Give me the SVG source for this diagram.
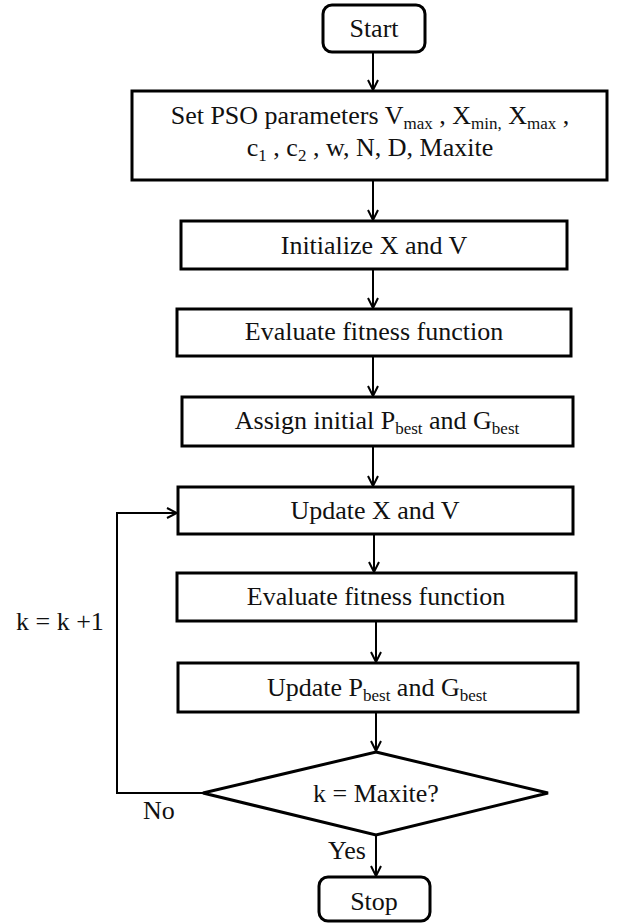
<svg xmlns="http://www.w3.org/2000/svg" width="639" height="923" viewBox="0 0 639 923" font-family="'Liberation Serif', 'DejaVu Serif', serif">
<style>
.box{fill:#fff;stroke:#000;stroke-width:3}
.t{font-family:'Liberation Serif','DejaVu Serif',serif;font-size:26px;fill:#111}
.c{text-anchor:middle}
.s{font-size:17px}
.ln{fill:none;stroke:#000;stroke-width:2}
</style>
<defs>
<marker id="ah" viewBox="0 0 12 12" refX="11" refY="6" markerWidth="12" markerHeight="12" markerUnits="userSpaceOnUse" orient="auto">
<path d="M1,1 L11,6 L1,11" fill="none" stroke="#000" stroke-width="2"/>
</marker>
</defs>
<rect width="639" height="923" fill="#fff"/>
<g id="connectors">
<line class="ln" x1="373" y1="52" x2="373" y2="90" marker-end="url(#ah)"/>
<line class="ln" x1="373" y1="180" x2="373" y2="220" marker-end="url(#ah)"/>
<line class="ln" x1="373" y1="269" x2="373" y2="308" marker-end="url(#ah)"/>
<line class="ln" x1="373" y1="356" x2="373" y2="396" marker-end="url(#ah)"/>
<line class="ln" x1="373" y1="446" x2="373" y2="486" marker-end="url(#ah)"/>
<line class="ln" x1="374" y1="534" x2="374" y2="572" marker-end="url(#ah)"/>
<line class="ln" x1="376" y1="621" x2="376" y2="662" marker-end="url(#ah)"/>
<line class="ln" x1="376" y1="712" x2="376" y2="751" marker-end="url(#ah)"/>
<line class="ln" x1="376" y1="835" x2="376" y2="876" marker-end="url(#ah)"/>
<polyline class="ln" points="203,793 117,793 117,513 177,513" marker-end="url(#ah)"/>
</g>
<g id="start">
<rect class="box" x="323" y="5" width="102" height="47" rx="9"/>
<text class="t c" x="374" y="37">Start</text>
</g>
<g id="setparams">
<rect class="box" x="132" y="91" width="475" height="89"/>
<text class="t c" x="370" y="124">Set PSO parameters V<tspan class="s" dy="5">max</tspan><tspan dy="-5"> , X</tspan><tspan class="s" dy="5">min,</tspan><tspan dy="-5"> X</tspan><tspan class="s" dy="5">max</tspan><tspan dy="-5"> ,</tspan></text>
<text class="t c" x="370" y="156">c<tspan class="s" dy="5">1</tspan><tspan dy="-5"> , c</tspan><tspan class="s" dy="5">2</tspan><tspan dy="-5"> , w, N, D, Maxite</tspan></text>
</g>
<g id="init">
<rect class="box" x="181" y="221" width="386" height="48"/>
<text class="t c" x="374" y="254">Initialize X and V</text>
</g>
<g id="eval1">
<rect class="box" x="177" y="309" width="394" height="47"/>
<text class="t c" x="374" y="340">Evaluate fitness function</text>
</g>
<g id="assign">
<rect class="box" x="182" y="397" width="391" height="49"/>
<text class="t c" x="377" y="429">Assign initial P<tspan class="s" dy="5">best</tspan><tspan dy="-5"> and G</tspan><tspan class="s" dy="5">best</tspan></text>
</g>
<g id="update">
<rect class="box" x="178" y="487" width="395" height="47"/>
<text class="t c" x="375" y="519">Update X and V</text>
</g>
<g id="eval2">
<rect class="box" x="177" y="573" width="399" height="48"/>
<text class="t c" x="376" y="605">Evaluate fitness function</text>
</g>
<g id="updatebest">
<rect class="box" x="178" y="663" width="400" height="49"/>
<text class="t c" x="377" y="696">Update P<tspan class="s" dy="5">best</tspan><tspan dy="-5"> and G</tspan><tspan class="s" dy="5">best</tspan></text>
</g>
<g id="decision">
<polygon class="box" points="376,752 548,793 376,835 203,793"/>
<text class="t c" x="376" y="802">k = Maxite?</text>
</g>
<g id="stop">
<rect class="box" x="319" y="877" width="111" height="44" rx="9"/>
<text class="t c" x="374" y="910">Stop</text>
</g>
<g id="labels">
<text class="t" x="16" y="630">k = k +1</text>
<text class="t" x="143" y="819">No</text>
<text class="t" x="328" y="859">Yes</text>
</g>
</svg>
